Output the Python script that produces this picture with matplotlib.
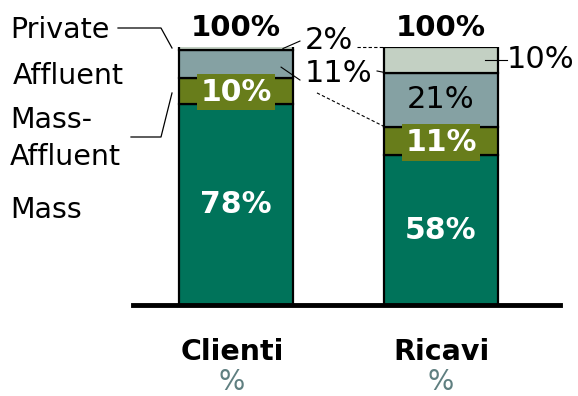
import matplotlib
matplotlib.use("Agg")
import matplotlib.pyplot as plt
from matplotlib.lines import Line2D

# quote per segmento di clientela
categories = ["Clienti", "Ricavi"]
segments = ["Mass", "Mass-Affluent", "Affluent", "Private"]
mass = [78, 58]
mass_affluent = [10, 11]
affluent = [11, 21]
private = [2, 10]
totals = ["100%", "100%"]

colors = {
    "Mass": "#00735a",
    "Mass-Affluent": "#687d1b",
    "Affluent": "#85a1a3",
    "Private": "#c3d0c3",
}

W, H = 578, 396
fig = plt.figure(figsize=(W / 100, H / 100), dpi=100)
ax = fig.add_axes([133 / W, 91 / H, 427 / W, 258 / H])

x = [0, 1]
bw = 0.56
bottom = [0, 0]
for name, vals in zip(segments, [mass, mass_affluent, affluent, private]):
    ax.bar(x, vals, bw, bottom=bottom, color=colors[name],
           edgecolor="black", linewidth=1.6, zorder=2)
    bottom = [b + v for b, v in zip(bottom, vals)]

ax.set_xlim(-0.502, 1.58)
ax.set_ylim(0, 100)
for s in ["top", "right", "left"]:
    ax.spines[s].set_visible(False)
ax.spines["bottom"].set_linewidth(3.5)
ax.spines["bottom"].set_zorder(3)
ax.set_xticks([])
ax.set_yticks([])

# etichette dentro le barre
ax.text(0, mass[0] / 2, f"{mass[0]}%", ha="center", va="center",
        color="white", fontsize=21.5, fontweight="bold")
ax.text(1, mass[1] / 2, f"{mass[1]}%", ha="center", va="center",
        color="white", fontsize=21.5, fontweight="bold")
for i in range(2):
    ax.text(i, mass[i] + mass_affluent[i] / 2 - 0.5, f"{mass_affluent[i]}%",
            ha="center", va="center", color="white", fontsize=21.5,
            fontweight="bold", zorder=4,
            bbox=dict(boxstyle="square,pad=0.12", fc=colors["Mass-Affluent"], ec="none"))
ax.text(1, mass[1] + mass_affluent[1] + affluent[1] / 2, f"{affluent[1]}%",
        ha="center", va="center", color="black", fontsize=22)

# totali sopra le barre
for i in range(2):
    ax.text(i, 107.4, totals[i], ha="center", va="center",
            fontsize=21, fontweight="bold", clip_on=False)

# etichette esterne con linee guida
ax.text(0.337, 102.7, f"{private[0]}%", ha="left", va="center", fontsize=22, clip_on=False)
ax.text(0.337, 89.9, f"{affluent[0]}%", ha="left", va="center", fontsize=22, clip_on=False)
ax.text(1.322, 95, f"{private[1]}%", ha="left", va="center", fontsize=22, clip_on=False)
ax.plot([0.312, 0.229], [102.3, 99.4], color="black", lw=0.8, zorder=5, clip_on=False)
ax.plot([0.312, 0.22], [87.2, 92.2], color="black", lw=0.8, zorder=5)
ax.plot([1.215, 1.322], [95, 95], color="black", lw=0.8, zorder=5)
ax.plot([0.59, 0.727], [100, 100], color="black", lw=0.8, ls=(0, (3, 2)), clip_on=False)
ax.plot([0.395, 0.727], [82.2, 69], color="black", lw=0.8, ls=(0, (3, 2)))
ax.plot([0.688, 0.72], [90.7, 90.2], color="black", lw=0.8)

# categorie sotto l'asse
for i, c in enumerate(categories):
    ax.text(i - (0.02 if i == 0 else 0), -18.2, c, ha="center", va="center",
            fontsize=20.5, fontweight="bold", clip_on=False)
    ax.text(i - (0.02 if i == 0 else 0), -29.8, "%", ha="center", va="center",
            fontsize=20, color="#5f7f80", clip_on=False)

# legenda a sinistra
def fx(px):
    return px / W

def fy(py):
    return 1 - py / H

fig.text(fx(10), fy(30), "Private", ha="left", va="center", fontsize=20.5)
fig.text(fx(13), fy(76), "Affluent", ha="left", va="center", fontsize=20.5)
fig.text(fx(10), fy(120), "Mass-", ha="left", va="center", fontsize=20.5)
fig.text(fx(10), fy(157), "Affluent", ha="left", va="center", fontsize=20.5)
fig.text(fx(10), fy(210), "Mass", ha="left", va="center", fontsize=20.5)

for pts in ([(118, 28), (161, 28), (172, 48)], [(131, 137), (161, 137), (172, 93)]):
    fig.add_artist(Line2D([fx(p[0]) for p in pts], [fy(p[1]) for p in pts],
                          color="black", lw=0.9))

fig.savefig("out.png", dpi=100)
